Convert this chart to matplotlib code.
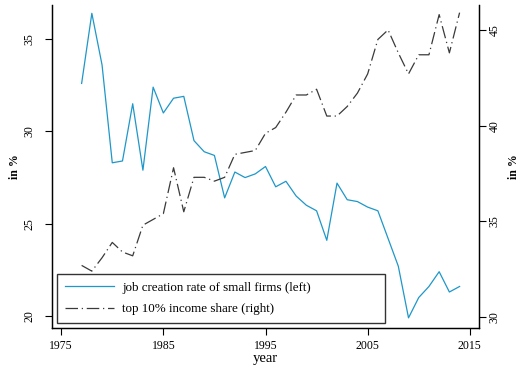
import matplotlib
matplotlib.use("Agg")
import matplotlib.pyplot as plt

plt.rcParams['font.family'] = ['Liberation Serif', 'DejaVu Serif']

years = list(range(1977, 2015))

# job creation rate of small firms (left axis, in %)
job_creation = [32.6, 36.4, 33.6, 28.3, 28.4, 31.5, 27.9, 32.4, 31.0, 31.8,
                31.9, 29.5, 28.9, 28.7, 26.4, 27.8, 27.5, 27.7, 28.1, 27.0,
                27.3, 26.5, 26.0, 25.7, 24.1, 27.2, 26.3, 26.2, 25.9, 25.7,
                24.2, 22.7, 19.9, 21.0, 21.6, 22.4, 21.3, 21.6]

# top 10% income share (right axis, in %)
top10_share = [32.7, 32.4, 33.1, 33.9, 33.4, 33.2, 34.8, 35.1, 35.4, 37.8,
               35.5, 37.3, 37.3, 37.1, 37.3, 38.5, 38.6, 38.7, 39.6, 39.9,
               40.7, 41.6, 41.6, 41.9, 40.5, 40.5, 41.0, 41.7, 42.7, 44.5,
               45.0, 43.8, 42.7, 43.7, 43.7, 45.8, 43.8, 45.9]

x_ticks = [1975, 1985, 1995, 2005, 2015]
left_ticks = [20, 25, 30, 35]
right_ticks = [30, 35, 40, 45]

fig = plt.figure(figsize=(5.25, 3.75), dpi=100)
ax = fig.add_axes([52 / 525, 1 - 328 / 375, 427 / 525, 323 / 375])
ax2 = ax.twinx()

blue = '#1e97c9'
l1, = ax.plot(years, job_creation, color=blue, linewidth=0.9)
l2, = ax2.plot(years, top10_share, color='#3a3a3a', linewidth=0.9,
               dashes=[10, 3, 1, 3])

ax.set_xlim(1974.1, 2015.9)
ax.set_ylim(19.35, 36.85)
ax2.set_ylim(29.43, 46.3)

ax.set_xticks(x_ticks)
ax.set_yticks(left_ticks)
ax2.set_yticks(right_ticks)

for a in (ax, ax2):
    a.spines['top'].set_visible(False)
    for s in a.spines.values():
        s.set_linewidth(0.9)
    a.tick_params(direction='out', length=5, width=0.8, labelsize=8.5)

ax.tick_params(axis='y', pad=7)
ax2.tick_params(axis='y', pad=2)

for lab in ax.get_yticklabels():
    lab.set_rotation(90)
    lab.set_va('center')
for lab in ax2.get_yticklabels():
    lab.set_rotation(90)
    lab.set_va('center')

ax.set_xlabel("year", fontsize=10.5, labelpad=0)
ax.set_ylabel("in %", fontsize=8.5, labelpad=2, fontweight='bold')
ax2.set_ylabel("in %", fontsize=8.5, labelpad=5, fontweight='bold', rotation=90)

leg = ax.legend([l1, l2], ["job creation rate of small firms (left)",
                           "top 10% income share (right)"],
                loc='lower left', bbox_to_anchor=(0.0117, 0.0155, 0.768, 0.15),
                mode='expand',
                fontsize=9.4, fancybox=False, frameon=True, handlelength=3.8,
                handletextpad=0.6, borderpad=0.6, labelspacing=0.7,
                borderaxespad=0)
leg.get_frame().set_edgecolor('black')
leg.get_frame().set_linewidth(1.0)

fig.savefig("out.png", dpi=100)
